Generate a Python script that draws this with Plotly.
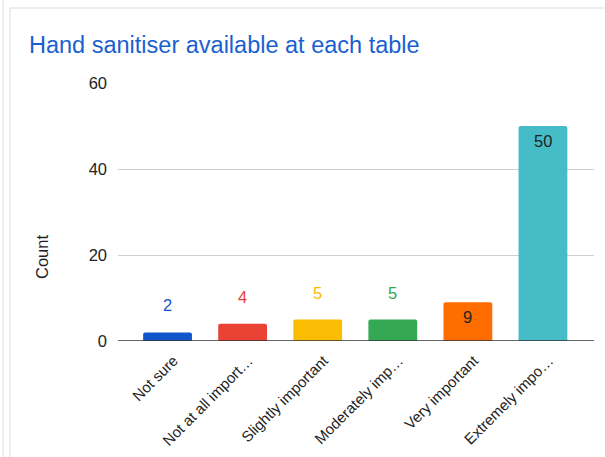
import plotly.graph_objects as go

categories = ["Not sure", "Not at all import…", "Slightly important",
              "Moderately imp…", "Very important", "Extremely impo…"]
counts = [2, 4, 5, 5, 9, 50]
colors = ["#1155cc", "#ea4335", "#fbbc04", "#34a853", "#ff6d01", "#46bdc6"]
label_inside = [False, False, False, False, True, True]
y_ticks = [0, 20, 40, 60]
title_text = "Hand sanitiser available at each table"
y_title = "Count"

W, H = 605, 457
L, R, T, B = 118, 11, 83, 116
pw, ph = W - L - R, H - T - B

def px_x(p):
    return (p - L) / pw

def px_y(p):
    return (H - B - p) / ph

FONT = "Arial, 'Liberation Sans', sans-serif"

fig = go.Figure()
fig.add_trace(go.Bar(
    x=list(range(len(categories))), y=counts,
    marker=dict(color=colors, line=dict(width=0)),
    width=0.65, hoverinfo="skip",
))

annotations = []
for i, (v, c, inside) in enumerate(zip(counts, colors, label_inside)):
    annotations.append(dict(
        x=i, y=v, xref="x", yref="y", text=str(v), showarrow=False,
        font=dict(family=FONT, size=16.5, color="#222222" if inside else c),
        yanchor="middle", yshift=-15 if inside else 27,
    ))

annotations.append(dict(
    x=px_x(42), y=px_y(257), xref="paper", yref="paper", text=y_title,
    showarrow=False, textangle=-90, font=dict(family=FONT, size=16.5, color="#222222"),
    xanchor="center", yanchor="middle",
))

shapes = [
    dict(type="line", xref="paper", yref="paper", x0=px_x(3), x1=px_x(3),
         y0=px_y(0), y1=px_y(457), line=dict(color="#dadce0", width=1)),
    dict(type="line", xref="paper", yref="paper", x0=px_x(10), x1=px_x(10),
         y0=px_y(8), y1=px_y(457), line=dict(color="#dadce0", width=1)),
    dict(type="line", xref="paper", yref="paper", x0=px_x(10), x1=px_x(605),
         y0=px_y(8), y1=px_y(8), line=dict(color="#dadce0", width=1)),
    dict(type="line", xref="paper", yref="y", x0=0, x1=1, y0=0, y1=0,
         line=dict(color="#333333", width=1.5), layer="above"),
]

fig.update_layout(
    width=W, height=H,
    margin=dict(l=L, r=R, t=T, b=B, autoexpand=False),
    paper_bgcolor="white", plot_bgcolor="white",
    showlegend=False,
    barcornerradius=2,
    title=dict(text=title_text, xref="container", yref="container",
               x=29 / W, xanchor="left", y=1 - 45 / H, yanchor="middle",
               font=dict(family=FONT, size=23.5, color="#1a5fd0")),
    xaxis=dict(
        tickmode="array", tickvals=list(range(len(categories))), ticktext=categories,
        range=[-0.66, 5.68], tickangle=-45, showgrid=False, zeroline=False,
        showline=False, ticks="", ticklabelstandoff=7, ticklabelshift=6,
        tickfont=dict(family=FONT, size=15, color="#222222"),
    ),
    yaxis=dict(
        range=[0, 60], tickvals=y_ticks, showgrid=True, gridcolor="#d0d0d0",
        gridwidth=1, zeroline=False, showline=False, ticks="",
        ticklabelstandoff=10,
        tickfont=dict(family=FONT, size=16.5, color="#222222"),
    ),
    annotations=annotations, shapes=shapes,
)

fig.write_html("out.html", config={"displayModeBar": False},
               post_script="document.body.style.margin='0';")
